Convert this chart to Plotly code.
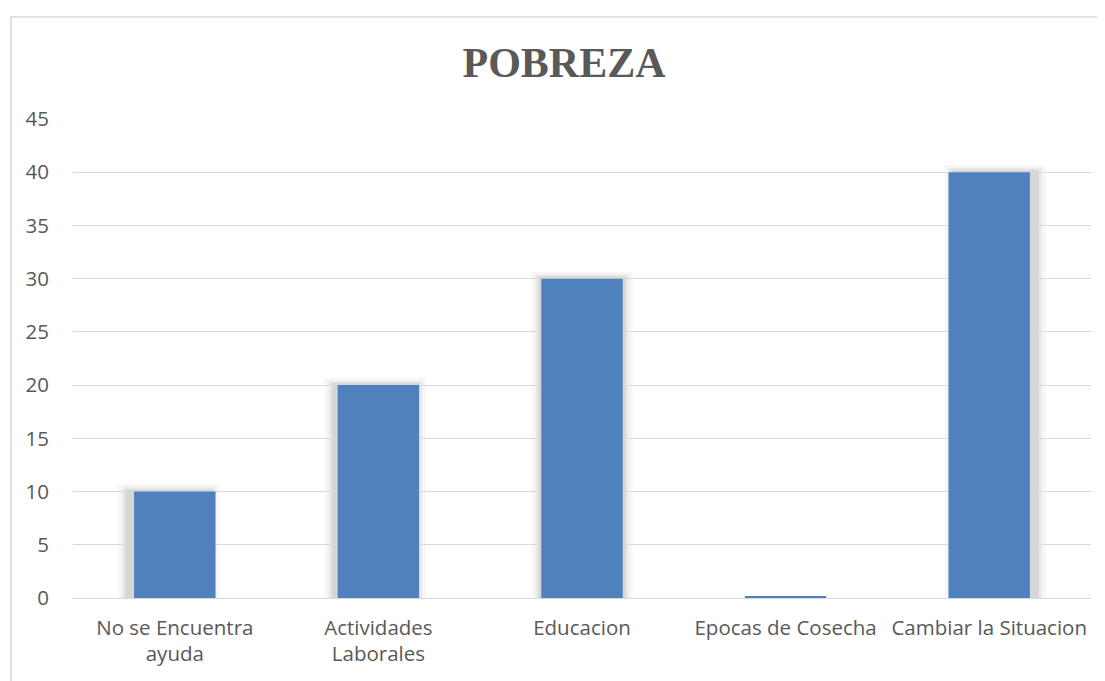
import plotly.graph_objects as go

categories = ["No se Encuentra<br>ayuda", "Actividades<br>Laborales", "Educacion",
              "Epocas de Cosecha", "Cambiar la Situacion"]
values = [10, 20, 30, 0.12, 40]
y_ticks = [0, 5, 10, 15, 20, 25, 30, 35, 40, 45]
title_text = "POBREZA"

OFF = 8  # page body margin
W, H = 1105 - OFF, 681 - OFF
L, R, T, B = 73 - OFF, 14, 119 - OFF, 83
plot_w = W - L - R
plot_h = H - T - B
ymax = 45
px_x = len(categories) / plot_w      # data units per px in x
px_y = ymax / plot_h                 # data units per px in y

bar_w = 0.4
shapes = []
# soft drop shadow behind each bar (derived from the data values)
for i, v in enumerate(values):
    if v < 1:
        continue
    dx = (i - 2) * 3 * px_x
    for grow, op in [(10, 0.035), (6, 0.05), (3, 0.08)]:
        shapes.append(dict(
            type="rect", xref="x", yref="y", layer="below",
            x0=i - bar_w / 2 + dx - grow * px_x,
            x1=i + bar_w / 2 + dx + grow * px_x,
            y0=0, y1=v + grow * 0.7 * px_y,
            line=dict(width=0), fillcolor=f"rgba(0,0,0,{op})"))

# chart frame border
shapes.append(dict(
    type="rect", xref="paper", yref="paper",
    x0=(11 - 73) / plot_w, x1=1 + (R + 10) / plot_w,
    y0=-(B + 10) / plot_h, y1=1 + (119 - 17) / plot_h,
    line=dict(color="#d9d9d9", width=1.5), fillcolor="rgba(0,0,0,0)"))

fig = go.Figure()
fig.add_trace(go.Bar(
    x=list(range(len(categories))), y=values, width=bar_w,
    marker=dict(color="#4F81BD", line=dict(width=0)),
))

fig.update_layout(
    width=W, height=H,
    margin=dict(l=L, r=R, t=T, b=B),
    paper_bgcolor="white", plot_bgcolor="rgba(0,0,0,0)",
    showlegend=False,
    shapes=shapes,
    title=dict(text=title_text, x=(564 - OFF) / W, xanchor="center", xref="container",
               y=1 - (62 - OFF) / H, yanchor="middle", yref="container",
               font=dict(family="Liberation Serif", size=42, color="#595959",
                         weight="bold")),
    xaxis=dict(
        tickmode="array", tickvals=list(range(len(categories))), ticktext=categories,
        range=[-0.5, len(categories) - 0.5],
        showgrid=False, zeroline=False, showline=False, ticks="",
        tickfont=dict(family="Open Sans", size=20.5, color="#595959"),
        ticklabelstandoff=15,
    ),
    yaxis=dict(
        range=[0, ymax], tickvals=y_ticks,
        showgrid=True, gridcolor="#d9d9d9", gridwidth=1,
        zeroline=True, zerolinecolor="#d9d9d9", zerolinewidth=1,
        showline=False, ticks="",
        tickfont=dict(family="Open Sans", size=20.5, color="#595959"),
        ticklabelstandoff=23,
    ),
)

fig.write_html("out.html")
